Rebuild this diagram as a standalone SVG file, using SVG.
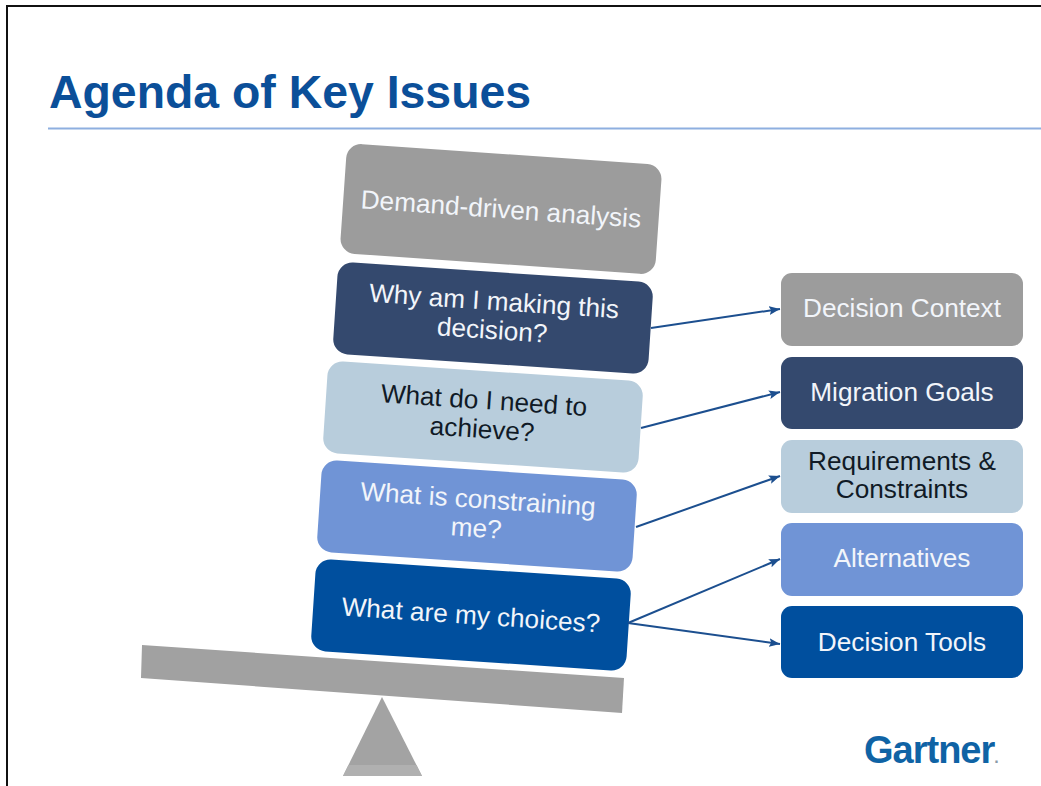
<svg xmlns="http://www.w3.org/2000/svg" width="1041" height="786" viewBox="0 0 1041 786">
<style>
text{font-family:"Liberation Sans",Arial,sans-serif;text-anchor:middle}
.l{font-size:26.200px;fill:#f2f5fa}
.d{fill:#101a26}
.c{fill:none;stroke:#1c4f8f;stroke-width:2;marker-end:url(#a)}
</style>
<defs><marker id="a" viewBox="0 0 10 8" refX="10" refY="4" markerWidth="5.5" markerHeight="4.5" orient="auto" markerUnits="strokeWidth"><path d="M0 0L10 4L0 8L2 4Z" fill="#1c4f8f"/></marker></defs>
<rect width="1041" height="786" fill="#fff"/>
<path d="M7 786V6H1041" fill="none" stroke="#111" stroke-width="2"/>
<g id="title"><text x="49" y="108" style="text-anchor:start;font-size:46.400px;font-weight:bold;fill:#0b4f99">Agenda of Key Issues</text>
<rect x="48" y="127.500" width="993" height="2" fill="#8eafe0"/></g>
<g id="fulcrum"><path d="M382 697L422 776H343Z" fill="#a3a3a3"/><path d="M348.500 765H416.500L422 776H343Z" fill="#b0b0b0"/></g>
<g id="beam"><path d="M142 645L624 678L622 713L141 678Z" fill="#a1a1a1"/></g>
<g id="q0" transform="rotate(4 501 209)"><rect x="343" y="154" width="316" height="110" rx="15" fill="#9c9c9c"/><text class="l" x="501" y="218">Demand-driven analysis</text></g>
<g id="q1" transform="rotate(3.800 493 318)"><rect x="335" y="272" width="316" height="92" rx="15" fill="#34496e"/><text class="l" x="493" y="310">Why am I making this</text><text class="l" x="493" y="339">decision?</text></g>
<g id="q2" transform="rotate(3.800 483 417)"><rect x="325" y="371" width="316" height="92" rx="15" fill="#b8cddc"/><text class="l d" x="483" y="409">What do I need to</text><text class="l d" x="483" y="438">achieve?</text></g>
<g id="q3" transform="rotate(3.800 477 516)"><rect x="319" y="470" width="316" height="92" rx="15" fill="#7094d6"/><text class="l" x="477" y="508">What is constraining</text><text class="l" x="477" y="537">me?</text></g>
<g id="q4" transform="rotate(3.800 471 615)"><rect x="313" y="569" width="316" height="92" rx="15" fill="#004f9e"/><text class="l" x="471" y="624">What are my choices?</text></g>
<g id="connectors">
<path class="c" d="M651 328L780 309"/><path class="c" d="M641 428L780 392"/><path class="c" d="M636 527L780 476"/><path class="c" d="M628 623L780 559"/><path class="c" d="M628 623L780 644"/>
</g>
<g id="r0"><rect x="781" y="273" width="242" height="73" rx="11" fill="#9c9c9c"/><text class="l" x="902" y="317">Decision Context</text></g>
<g id="r1"><rect x="781" y="357" width="242" height="72" rx="11" fill="#34496e"/><text class="l" x="902" y="401">Migration Goals</text></g>
<g id="r2"><rect x="781" y="440" width="242" height="73" rx="11" fill="#b8cddc"/><text class="l d" x="902" y="470">Requirements &amp;</text><text class="l d" x="902" y="498">Constraints</text></g>
<g id="r3"><rect x="781" y="523" width="242" height="73" rx="11" fill="#7094d6"/><text class="l" x="902" y="567">Alternatives</text></g>
<g id="r4"><rect x="781" y="606" width="242" height="72" rx="11" fill="#004f9e"/><text class="l" x="902" y="651">Decision Tools</text></g>
<g id="logo"><text x="864" y="763" style="text-anchor:start;font-size:38px;font-weight:bold;letter-spacing:-1px;fill:#0f63a5">Gartner<tspan font-size="16" fill="#8a9aa8">.</tspan></text></g>
</svg>
